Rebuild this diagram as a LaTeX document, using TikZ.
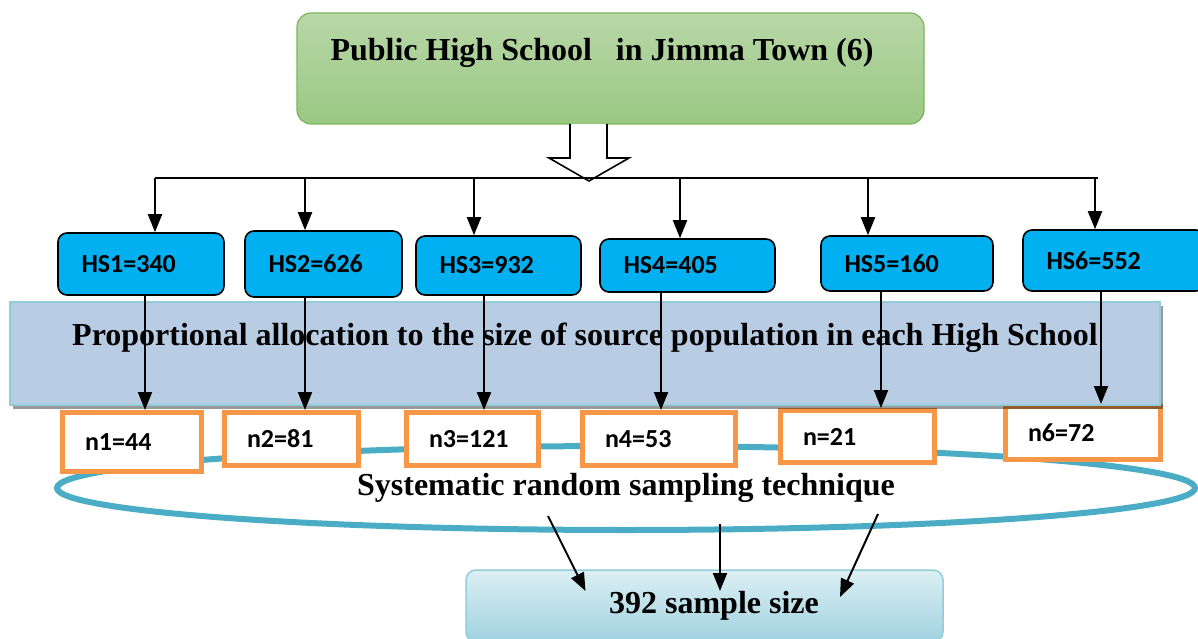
\documentclass[tikz,border=0pt]{standalone}
\usepackage{fontspec}
\setmainfont{Liberation Serif}
\newfontfamily\lblfont{Carlito}
\usepackage{tikz}
\usetikzlibrary{arrows.meta,calc,shapes.geometric,shadows}
\definecolor{jmgreen}{RGB}{122,182,92}
\definecolor{jmgreenlt}{RGB}{184,215,168}
\definecolor{jmgreendk}{RGB}{154,200,130}
\definecolor{jmcyan}{RGB}{0,176,240}
\definecolor{jmband}{RGB}{184,204,228}
\definecolor{jmteal}{RGB}{146,205,220}
\definecolor{jmring}{RGB}{75,172,198}
\definecolor{jmorange}{RGB}{247,150,70}
\definecolor{jmsamplelt}{RGB}{220,239,244}
\definecolor{jmsampledk}{RGB}{160,210,224}
\tikzset{
  titlebox/.style={rounded corners=14pt,draw=jmgreen,line width=1.2pt,top color=jmgreenlt,bottom color=jmgreendk,inner sep=0pt,align=center,font=\bfseries\fontsize{32}{38}\selectfont},
  hsbox/.style={rounded corners=9pt,draw=black,line width=1.6pt,fill=jmcyan,inner xsep=23.5pt,inner ysep=0pt,align=left,font=\lblfont\bfseries\fontsize{26}{30}\selectfont},
  nbox/.style={draw=jmorange,line width=5pt,fill=white,inner xsep=22.5pt,inner ysep=0pt,align=left,font=\lblfont\bfseries\fontsize{26}{30}\selectfont},
  band/.style={draw=jmteal,line width=2.5pt,fill=jmband,inner sep=0pt,align=center,font=\bfseries\fontsize{32}{38}\selectfont,
    drop shadow={shadow xshift=3pt,shadow yshift=-4pt,fill=black,opacity=0.4}},
  ring/.style={ellipse,draw=jmring,line width=6pt,inner sep=0pt,font=\bfseries\fontsize{32}{38}\selectfont},
  samplebox/.style={rounded corners=10pt,draw=jmteal,line width=1.5pt,top color=jmsamplelt,bottom color=jmsampledk,inner sep=0pt,font=\bfseries\fontsize{32}{38}\selectfont},
  arr/.style={-{Triangle[length=18pt,width=14pt]},line width=2pt,draw=black},
  bar/.style={line width=2pt,draw=black},
}
\begin{document}
\begin{tikzpicture}[x=1pt,y=-1pt]
  \path[use as bounding box,clip] (0,0) rectangle (1198,639);
  % top level
  \node[titlebox,minimum width=627pt,minimum height=111pt] (town) at (610.5,68.5) {Public High School\ \ \ in Jimma Town (6)\hspace*{17pt}\\\mbox{}};
  \draw[line width=1.6pt,fill=white] (570,124) -- (570,158) -- (549,158) -- (589,181) -- (629,158) -- (607,158) -- (607,124);
  % distribution bar
  \coordinate (bus1) at (155,178);
  \coordinate (bus2) at (305,178);
  \coordinate (bus3) at (474,178);
  \coordinate (bus4) at (680,178);
  \coordinate (bus5) at (868,178);
  \coordinate (bus6) at (1095,178);
  \coordinate (busend) at (1098,178);
  \draw[bar] (bus1) -- (busend);
  % schools
  \node[hsbox,text width=119pt,minimum height=62pt] (hs1) at (141,264) {HS1=340};
  \node[hsbox,text width=110pt,minimum height=66pt] (hs2) at (323.5,264) {HS2=626};
  \node[hsbox,text width=118pt,minimum height=59pt] (hs3) at (498.5,265.5) {HS3=932};
  \node[hsbox,text width=128pt,minimum height=53pt] (hs4) at (687.5,265.5) {HS4=405};
  \node[hsbox,text width=125pt,minimum height=55pt] (hs5) at (907,263.5) {HS5=160};
  \node[hsbox,text width=135pt,minimum height=61pt] (hs6) at (1114,260.5) {HS6=552};
  \foreach \i in {1,...,6}
    \draw[arr] (bus\i) -- (bus\i |- hs\i.north);
  % sampling technique
  \node[ring,minimum width=1138pt,minimum height=84pt] (tech) at (626,488) {Systematic random sampling technique};
  % sample per school
  \node[nbox,text width=94pt,minimum height=59pt] (n1) at (132,442) {n1=44};
  \node[nbox,text width=89pt,minimum height=53pt] (n2) at (291.5,439) {n2=81};
  \node[nbox,text width=87pt,minimum height=53pt] (n3) at (472.5,439) {n3=121};
  \node[nbox,text width=108pt,minimum height=53pt] (n4) at (659,439) {n4=53};
  \node[nbox,text width=109pt,minimum height=52pt] (n5) at (857.5,436.5) {n=21};
  \node[nbox,text width=110pt,minimum height=53pt] (n6) at (1083,433) {n6=72};
  \node[band,minimum width=1150pt,minimum height=103pt] (alloc) at (585,353.5) {Proportional allocation to the size of source population in each High School\\\mbox{}};
  \draw[arr] ([xshift=4pt]hs1.south) -- ([xshift=4pt]hs1.south |- n1.north);
  \draw[arr] ([xshift=-18.5pt]hs2.south) -- ([xshift=-18.5pt]hs2.south |- n2.north);
  \draw[arr] ([xshift=-14.5pt]hs3.south) -- ([xshift=-14.5pt]hs3.south |- n3.north);
  \draw[arr] ([xshift=-26.5pt]hs4.south) -- ([xshift=-26.5pt]hs4.south |- n4.north);
  \draw[arr] ([xshift=-26pt]hs5.south) -- ([xshift=-26pt]hs5.south |- n5.north);
  \draw[arr] ([xshift=-13pt]hs6.south) -- ([xshift=-13pt]hs6.south |- n6.north);
  % total
  \node[samplebox,minimum width=477pt,minimum height=72pt] (sample) at (704.5,606) {\hspace*{19pt}392 sample size};
  \draw[arr] ($(tech.center)+(-78,28)$) -- ($(sample.center)+(-119,-15)$);
  \draw[arr] ($(tech.center)+(94,36)$) -- ($(sample.center)+(15.5,-15)$);
  \draw[arr] ($(tech.center)+(252,26)$) -- ($(sample.center)+(135.5,-9)$);
\end{tikzpicture}
\end{document}
